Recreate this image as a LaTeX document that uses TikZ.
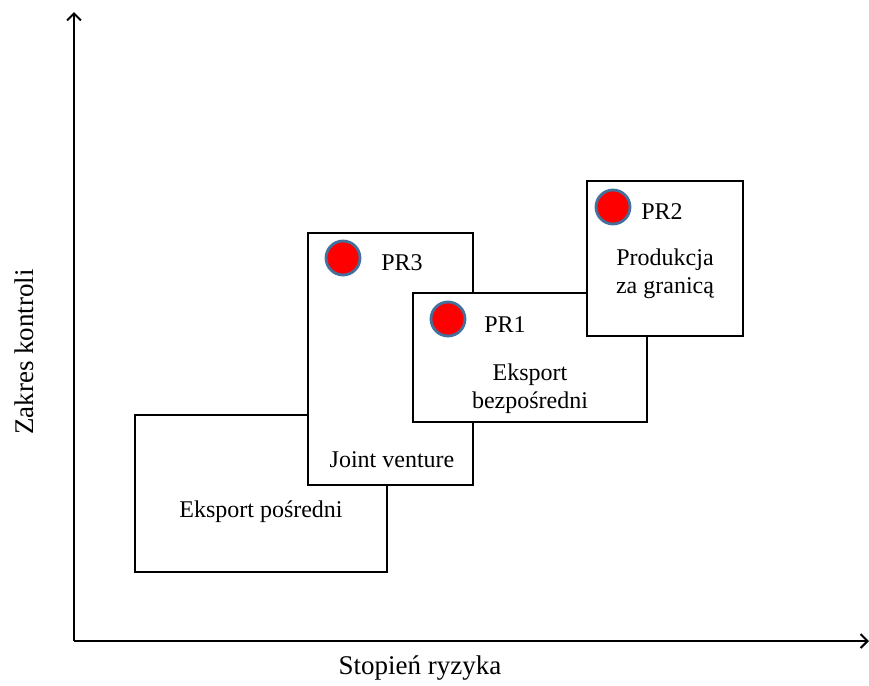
\documentclass[tikz,border=0pt]{standalone}
\usepackage{fontspec}
\setmainfont{Liberation Serif}
\usetikzlibrary{arrows.meta,positioning}
\definecolor{ringblue}{HTML}{41719C}

\begin{document}
\begin{tikzpicture}[x=0.5pt,y=-0.5pt,
		axis/.style={line width=1pt,-{Straight Barb[length=3.5pt,width=7pt,line width=1pt]}},
		axislabel/.style={font=\fontsize{13.5}{16}\selectfont,inner sep=0pt},
		mode/.style={draw,line width=1pt,fill=white,inner sep=0pt},
		txt/.style={font=\fontsize{12}{14}\selectfont,inner sep=0pt},
		dot/.style={circle,draw=ringblue,line width=1.4pt,fill=red,minimum size=17pt,inner sep=0pt}]
			\useasboundingbox (0,0) rectangle (869,686);
			% axes
			\coordinate (origin) at (74,641);
			\coordinate (ytop) at (74,12);
			\coordinate (xend) at (869,641);
			\draw[axis] (origin) -- (ytop);
			\draw[axis] (origin) -- (xend);
			\node[axislabel,rotate=90] (ylab) at (24,352) {Zakres kontroli};
			\node[axislabel] (xlab) at (420,668) {Stopień ryzyka};
			% entry modes
			\node[mode,minimum width=126pt,minimum height=78.5pt] (posredni) at (261,493.5) {};
			\node[mode,minimum width=82.5pt,minimum height=126pt] (jv) at (390.5,359) {};
			\node[mode,minimum width=117pt,minimum height=64.5pt] (bezp) at (530,357.5) {};
			\node[mode,minimum width=78pt,minimum height=77.5pt] (prod) at (665,258.5) {};
			\node[txt] (posrednitxt) at (261,512) {Eksport pośredni};
			\node[txt] (jvtxt) at (392,460) {Joint venture};
			\node[txt,align=center] (bezptxt) at (530,389) {Eksport\\bezpośredni};
			\node[txt,align=center] (prodtxt) at (665,274) {Produkcja\\za granicą};
			% projects
			\node[dot] (pr3dot) at (343,258) {};
			\node[txt] (pr3) at (402,263) {PR3};
			\node[dot] (pr1dot) at (448,319) {};
			\node[txt] (pr1) at (505,325) {PR1};
			\node[dot] (pr2dot) at (613,207) {};
			\node[txt] (pr2) at (662,212) {PR2};
\end{tikzpicture}
\end{document}
